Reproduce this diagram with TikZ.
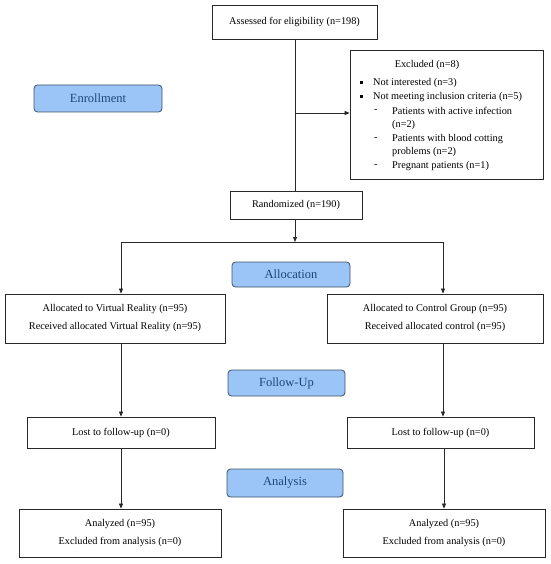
\documentclass[tikz,border=0pt]{standalone}
\usepackage{fontspec}
\setmainfont{Liberation Serif}
\usetikzlibrary{arrows.meta}
\definecolor{lblfill}{RGB}{155,196,247}
\definecolor{lbldraw}{RGB}{62,82,104}
\definecolor{lbltext}{RGB}{28,70,120}
\definecolor{linec}{RGB}{40,40,40}
\tikzset{
  box/.style={draw=linec, line width=0.8pt, fill=white, inner sep=0pt, align=center,
    font=\fontsize{10.3}{18}\selectfont},
  lbl/.style={draw=lbldraw, line width=0.8pt, fill=lblfill, rounded corners=3.5pt, inner sep=0pt,
    text=lbltext, font=\fontsize{12.5}{14}\selectfont},
  conn/.style={draw=linec, line width=0.7pt},
  arr/.style={conn, -{Triangle[length=5pt,width=4pt]}},
  txt/.style={inner sep=0pt, anchor=west, font=\fontsize{10.3}{12}\selectfont},
}
\begin{document}
\begin{tikzpicture}[x=1pt,y=-1pt]
\useasboundingbox (0,0) rectangle (550,564);
% boxes
\node[box, minimum width=165, minimum height=34] (assess) at (294.5,22) {Assessed for eligibility (n=198)};
\node[box, minimum width=193, minimum height=129] (excl) at (446.5,114.5) {};
\node[lbl, minimum width=128, minimum height=27] (enroll) at (98,98.5) {Enrollment};
\node[box, minimum width=132, minimum height=28] (rand) at (296,205) {Randomized (n=190)};
\node[lbl, minimum width=118, minimum height=25] (alloc) at (291,274.5) {Allocation};
\node[box, minimum width=220, minimum height=49] (vr) at (115,318.5) {Allocated to Virtual Reality (n=95)\\Received allocated Virtual Reality (n=95)};
\node[box, minimum width=216, minimum height=49] (ctrl) at (435,318.5) {Allocated to Control Group (n=95)\\Received allocated control (n=95)};
\node[lbl, minimum width=117, minimum height=26] (follow) at (286.5,383) {Follow-Up};
\node[box, minimum width=188, minimum height=31] (lostvr) at (121,432.5) {Lost to follow-up (n=0)};
\node[box, minimum width=187, minimum height=31] (lostctrl) at (440.5,432.5) {Lost to follow-up (n=0)};
\node[lbl, minimum width=116, minimum height=28] (analysis) at (285,483) {Analysis};
\node[box, minimum width=202, minimum height=48] (anvr) at (120,533) {Analyzed (n=95)\\Excluded from analysis (n=0)};
\node[box, minimum width=202, minimum height=48] (anctrl) at (444,533) {Analyzed (n=95)\\Excluded from analysis (n=0)};
% excluded contents
\node[txt, anchor=center] (extitle) at (427,65) {Excluded (n=8)};
\node[inner sep=0pt, fill=black, minimum size=3pt] (b1) at (361,83) {};
\node[txt] (e1) at (373,83) {Not interested (n=3)};
\node[inner sep=0pt, fill=black, minimum size=3pt] (b2) at (361,97) {};
\node[txt] (e2) at (373,97) {Not meeting inclusion criteria (n=5)};
\node[txt] (d1) at (374,111) {-};
\node[txt] (e3) at (392,111) {Patients with active infection};
\node[txt] (e3b) at (392,125) {(n=2)};
\node[txt] (d2) at (374,139) {-};
\node[txt] (e4) at (392,139) {Patients with blood cotting};
\node[txt] (e4b) at (392,152.5) {problems (n=2)};
\node[txt] (d3) at (374,166) {-};
\node[txt] (e5) at (392,166) {Pregnant patients (n=1)};
% connectors
\coordinate (t1) at (295,113);
\coordinate (split) at (295,242);
\coordinate (L) at (121,242);
\coordinate (R) at (443,242);
\coordinate (R2) at (444,242);
\draw[conn] (assess.south -| t1) -- (rand.north -| t1);
\draw[arr] (t1) -- (t1 -| excl.west);
\draw[arr] (rand.south -| split) -- (split);
\draw[conn] (L) -- (R);
\draw[arr] (L) -- (L |- vr.north);
\draw[arr] (R) -- (R |- ctrl.north);
\draw[arr] (L |- vr.south) -- (L |- lostvr.north);
\draw[arr] (R |- ctrl.south) -- (R |- lostctrl.north);
\draw[arr] (L |- lostvr.south) -- (L |- anvr.north);
\draw[arr] (R2 |- lostctrl.south) -- (R2 |- anctrl.north);
\end{tikzpicture}
\end{document}
